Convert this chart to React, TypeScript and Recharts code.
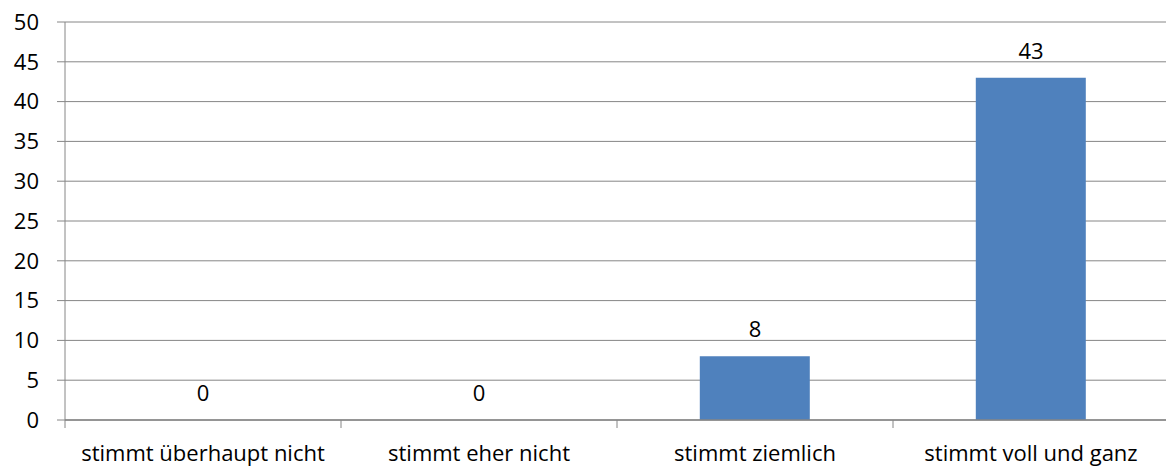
import { ComposedChart, Bar, Line, XAxis, YAxis, CartesianGrid, LabelList } from "recharts";

const categories = ["stimmt überhaupt nicht", "stimmt eher nicht", "stimmt ziemlich", "stimmt voll und ganz"];
const counts = [0, 0, 8, 43];
const yTicks = [0, 5, 10, 15, 20, 25, 30, 35, 40, 45, 50];

const data = categories.map((name, i) => ({ name, value: counts[i] }));

const FONT = "'Open Sans', sans-serif";
const SIZE = 22;
const GRID = "#868686";

// label in the middle of the band, tick mark on the band's left edge
function CategoryTick(props: any) {
    const { x, y, payload, width, visibleTicksCount, index } = props;
    const band = width / visibleTicksCount;
    const axisY = y - 18;
    const left = x - band / 2;
    return (
        <g>
            <line x1={left} y1={axisY} x2={left} y2={axisY + 8} stroke={GRID} />
            {index === visibleTicksCount - 1 && (
                <line x1={left + band} y1={axisY} x2={left + band} y2={axisY + 8} stroke={GRID} />
            )}
            <text x={x} y={y} dy="1.05em" textAnchor="middle" fill="#000" fontSize={SIZE} fontFamily={FONT}>
                {payload.value}
            </text>
        </g>
    );
}

export default function App() {
    return (
        <div style={{ position: "absolute", left: 0, top: 0, width: 1166, height: 468, overflow: "hidden", background: "#fff" }}>
            <ComposedChart
                width={1172}
                height={468}
                data={data}
                margin={{ top: 22, right: 3, left: 0, bottom: 0 }}
                barCategoryGap="30%"
            >
                <CartesianGrid vertical={false} stroke={GRID} />
                <XAxis
                    dataKey="name"
                    height={48}
                    interval={0}
                    tickLine={false}
                    tickSize={0}
                    tickMargin={18}
                    axisLine={{ stroke: GRID, strokeWidth: 1.5 }}
                    tick={<CategoryTick />}
                />
                <YAxis
                    width={65}
                    domain={[0, 50]}
                    ticks={yTicks}
                    interval={0}
                    tickSize={8}
                    tickMargin={18}
                    axisLine={{ stroke: GRID }}
                    tickLine={{ stroke: GRID }}
                    tick={{ fill: "#000", fontSize: SIZE, fontFamily: FONT }}
                />
                <Bar dataKey="value" fill="#4F81BD" isAnimationActive={false} />
                {/* invisible line only carries the value labels, so the zeros get one too */}
                <Line dataKey="value" stroke="none" dot={false} activeDot={false} legendType="none" isAnimationActive={false}>
                    <LabelList dataKey="value" position="top" offset={19} fill="#000" fontSize={SIZE} fontFamily={FONT} />
                </Line>
            </ComposedChart>
        </div>
    );
}
